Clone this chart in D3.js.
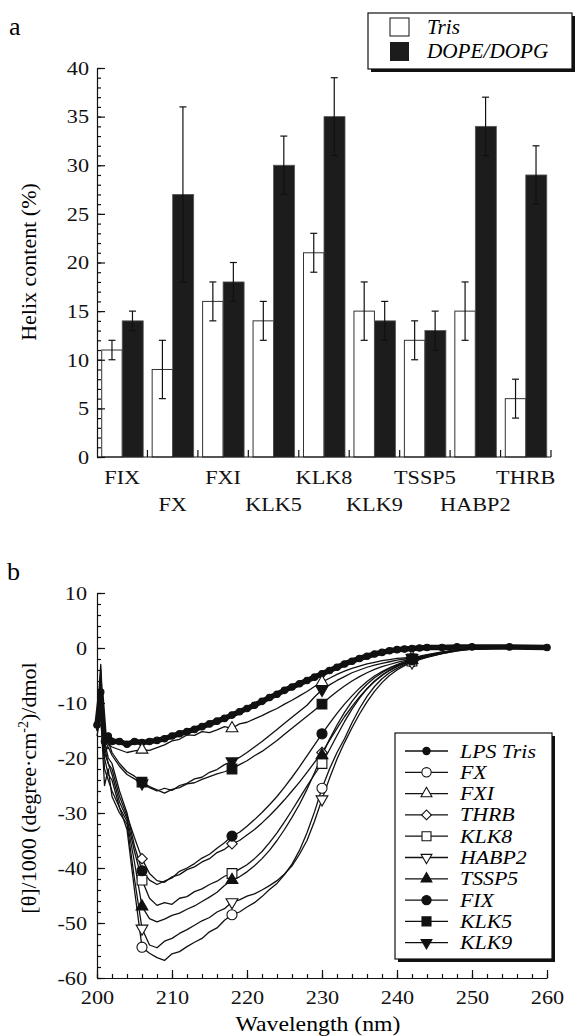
<!DOCTYPE html>
<html>
<head>
<meta charset="utf-8">
<title>Helix content and CD spectra</title>
<script src="https://cdn.jsdelivr.net/npm/d3@7/dist/d3.min.js"></script>
<style>
  body { margin: 0; background: #fff; }
  .axis path, .axis line { stroke: #111; stroke-width: 1.2; }
</style>
</head>
<body>
<div id="chart"></div>
<script>
// ---- panel a data (helix content %) ----
var categories = ["FIX", "FX", "FXI", "KLK5", "KLK8", "KLK9", "TSSP5", "HABP2", "THRB"];
var trisVals = [11, 9, 16, 14, 21, 15, 12, 15, 6];
var trisErr  = [1, 3, 2, 2, 2, 3, 2, 3, 2];
var lipVals  = [14, 27, 18, 30, 35, 14, 13, 34, 29];
var lipErr   = [1, 9, 2, 3, 4, 2, 2, 3, 3];
var barLegend = ["Tris", "DOPE/DOPG"];

// ---- panel b data (CD spectra, [theta]/1000) ----
var waves = [200, 200.5, 201, 201.5, 202, 203, 204, 205, 206, 207, 208, 209, 210, 211, 212, 213, 214, 215, 216, 217,
  218, 219, 220, 221, 222, 223, 224, 225, 226, 227, 228, 229, 230, 231, 232, 233, 234, 235, 236, 237,
  238, 239, 240, 241, 242, 243, 244, 246, 248, 250, 255, 260];

var lpsTris = [-14, -8, -17, -16, -17, -17, -17.5, -17, -17.2, -17, -16.8, -16.5, -16, -15.6, -15.2, -14.8, -14.3, -13.8, -13.3, -12.8,
  -12.2, -11.6, -11, -10.4, -9.7, -9, -8.4, -7.7, -7.1, -6.5, -5.9, -5.3, -4.7, -4.1, -3.5, -2.9, -2.4, -1.9, -1.5, -1.1,
  -0.8, -0.5, -0.3, -0.2, -0.1, 0, 0.1, 0.1, 0.2, 0.2, 0.2, 0.1];
var fx = [-15, -10, -22, -24, -26, -29, -33, -44, -54.4, -55.5, -56.3, -56.8, -55.6, -55.2, -54.3, -53.5, -52.8, -51.6, -50.9, -49.5,
  -48.5, -48, -47.1, -46.3, -45.2, -43.9, -42.8, -41.2, -39.3, -36.8, -33.6, -29.8, -25.5, -22, -19, -16.5, -13.6, -11, -8.8, -7,
  -5.6, -4.5, -3.7, -3, -2.5, -2, -1.6, -0.9, -0.4, -0.1, 0.1, 0.1];
var fxi = [-15, -10, -19, -17.5, -18, -18.5, -19, -18.7, -18.5, -18.6, -18.1, -17.6, -16.9, -16.6, -15.8, -15.9, -15.2, -15.4, -14.9, -14.3,
  -14.6, -13.8, -13.5, -12.9, -12.3, -11.6, -11, -10.2, -9.5, -8.7, -7.9, -7, -6.2, -5.5, -4.8, -4.2, -3.7, -3.3, -2.9, -2.6,
  -2.3, -2.1, -1.9, -1.8, -1.7, -1.5, -1.2, -0.7, -0.3, -0.1, 0, 0.1];
var thrb = [-15, -4, -18, -21, -22, -27, -30.5, -34.5, -38.3, -41, -42.3, -42.6, -41.6, -41.2, -40.3, -39.8, -38.9, -38.3, -37.2, -36.6,
  -35.6, -35, -34, -33, -31.8, -30.5, -29.1, -27.6, -26, -24.4, -22.6, -20.8, -19, -16.8, -14.6, -12.5, -10.6, -8.9, -7.4, -6.1,
  -5, -4.1, -3.4, -2.8, -2.3, -1.9, -1.5, -0.9, -0.4, -0.1, 0, 0.1];
var klk8 = [-14, -6, -19, -21, -23, -28, -31, -37, -42.2, -45.5, -46.8, -46.3, -46.6, -45.5, -45.2, -44.3, -43.8, -43, -42.4, -41.5,
  -41, -40.2, -39.4, -38.3, -37, -35.4, -33.6, -31.6, -29.5, -27.3, -25.1, -23, -21, -18.5, -15.9, -13.4, -11.1, -9.1, -7.4, -6,
  -4.9, -4, -3.3, -2.8, -2.4, -2, -1.6, -1, -0.5, -0.2, 0, 0.1];
var habp2 = [-16, -12, -25, -22, -27, -30, -32, -42, -51, -54, -54.5, -53.3, -52.8, -51.9, -51.2, -50.4, -49.6, -49, -48, -47.4,
  -46.2, -45.8, -45.1, -44.7, -44, -43.2, -42.3, -41.1, -39.6, -37.5, -35, -31.5, -27.5, -23.7, -20.2, -17.2, -14.5, -12, -9.8, -7.9,
  -6.3, -5, -4, -3.2, -2.6, -2.1, -1.7, -1, -0.5, -0.2, 0, 0.1];
var tssp5 = [-15, -9, -20, -23, -24, -29, -31.5, -39, -47, -49.2, -49.8, -49.3, -48.6, -48.2, -47.5, -46.9, -46.1, -45.3, -44.4, -43.2,
  -42.2, -41.6, -40.7, -39.6, -38.3, -36.8, -35, -33, -30.8, -28.4, -25.7, -22.7, -19.5, -16.6, -14, -11.7, -9.7, -8, -6.6, -5.4,
  -4.5, -3.7, -3.1, -2.6, -2.2, -1.8, -1.5, -0.9, -0.4, -0.1, 0, 0.1];
var fix = [-13, -3, -17, -20, -21, -26, -30, -36, -40.5, -42.2, -43, -42.4, -41.8, -40.6, -40, -39.2, -38.2, -37.5, -36.4, -35.4,
  -34.2, -33.5, -32.4, -31.2, -29.9, -28.5, -27, -25.3, -23.5, -21.6, -19.6, -17.6, -15.6, -13.7, -11.9, -10.2, -8.7, -7.3, -6.1, -5.1,
  -4.3, -3.6, -3, -2.5, -2.1, -1.7, -1.4, -0.8, -0.4, -0.1, 0, 0.1];
var klk5 = [-14, -7, -18, -17, -19, -21, -22.5, -23.3, -24.4, -25.2, -25.8, -26.4, -25.7, -25.4, -24.7, -24.5, -23.9, -23.4, -22.9, -22.5,
  -22, -21.2, -20.5, -19.6, -18.8, -17.8, -16.8, -15.7, -14.6, -13.5, -12.4, -11.3, -10.2, -9, -7.9, -6.9, -6, -5.2, -4.5, -3.9,
  -3.4, -3, -2.6, -2.3, -2, -1.7, -1.4, -0.8, -0.4, -0.1, 0, 0.1];
var klk9 = [-14, -5, -19, -18, -19.5, -21.5, -23, -23.8, -24.6, -25.4, -26, -25.5, -25.9, -25, -24.6, -23.8, -23.5, -22.6, -22.1, -21.2,
  -20.6, -19.9, -19, -18, -17, -15.9, -14.8, -13.7, -12.6, -11.5, -10.4, -8.9, -7.6, -6.7, -5.9, -5.2, -4.5, -4, -3.5, -3.1,
  -2.8, -2.5, -2.2, -2, -1.8, -1.6, -1.3, -0.8, -0.4, -0.1, 0, 0.1];

var seriesNames = ["LPS Tris", "FX", "FXI", "THRB", "KLK8", "HABP2", "TSSP5", "FIX", "KLK5", "KLK9"];
var seriesVals = [lpsTris, fx, fxi, thrb, klk8, habp2, tssp5, fix, klk5, klk9];
var markerWaves = [206, 218, 230, 242];

// marker style per series: symbol type, filled?, rotation
var markers = {
  "LPS Tris": { type: d3.symbolCircle, fill: true, rot: 0, size: 30 },
  "FX":       { type: d3.symbolCircle, fill: false, rot: 0, size: 80 },
  "FXI":      { type: d3.symbolTriangle, fill: false, rot: 0, size: 60 },
  "THRB":     { type: d3.symbolSquare, fill: false, rot: 45, size: 55 },
  "KLK8":     { type: d3.symbolSquare, fill: false, rot: 0, size: 95 },
  "HABP2":    { type: d3.symbolTriangle, fill: false, rot: 180, size: 60 },
  "TSSP5":    { type: d3.symbolTriangle, fill: true, rot: 0, size: 60 },
  "FIX":      { type: d3.symbolCircle, fill: true, rot: 0, size: 80 },
  "KLK5":     { type: d3.symbolSquare, fill: true, rot: 0, size: 95 },
  "KLK9":     { type: d3.symbolTriangle, fill: true, rot: 180, size: 60 }
};

var serif = "Liberation Serif";

var svg = d3.select("#chart").append("svg")
  .attr("width", 577)
  .attr("height", 1036)
  .attr("font-family", serif);

// the original figure is a little stretched sideways, so widen glyphs a bit
function stretch(sel, k) {
  sel.each(function() {
    var len = this.getComputedTextLength();
    d3.select(this).attr("textLength", len * k).attr("lengthAdjust", "spacingAndGlyphs");
  });
}

function drawMarker(g, name, x, y, scale) {
  var m = markers[name];
  g.append("path")
    .attr("d", d3.symbol().type(m.type).size(m.size * scale)())
    .attr("transform", "translate(" + x + "," + y + ") rotate(" + m.rot + ")")
    .attr("fill", m.fill ? "#111" : "#fff")
    .attr("stroke", "#111")
    .attr("stroke-width", 1.1);
}

function legendBox(x, y, w, h) {
  svg.append("rect").attr("x", x + 3).attr("y", y + 3).attr("width", w).attr("height", h).attr("fill", "#111");
  svg.append("rect").attr("x", x).attr("y", y).attr("width", w).attr("height", h)
    .attr("fill", "#fff").attr("stroke", "#111").attr("stroke-width", 1.2);
}

function tickText(g) {
  g.selectAll("text").attr("font-family", serif).attr("fill", "#111").style("font-size", "19.5px")
    .call(stretch, 1.14);
}

// ================= panel a =================
svg.append("text").attr("x", 9).attr("y", 35).style("font-size", "26px").text("a");

var xa = d3.scaleBand().domain(categories).range([97, 551]).padding(0);
var ya = d3.scaleLinear().domain([0, 40]).range([457, 68]);
var barW = 20.5;
var ga = svg.append("g");

// bars
categories.forEach(function(c, i) {
  var cx = xa(c) + xa.bandwidth() / 2;
  ga.append("rect")
    .attr("x", cx - barW).attr("y", ya(trisVals[i]))
    .attr("width", barW).attr("height", ya(0) - ya(trisVals[i]))
    .attr("fill", "#fff").attr("stroke", "#333").attr("stroke-width", 1);
  ga.append("rect")
    .attr("x", cx).attr("y", ya(lipVals[i]))
    .attr("width", barW + 0.5).attr("height", ya(0) - ya(lipVals[i]))
    .attr("fill", "#1c1c1c").attr("stroke", "#555").attr("stroke-width", 0.8);
});

// error bars
function errBar(cx, v, e) {
  ga.append("line").attr("x1", cx).attr("x2", cx).attr("y1", ya(v - e)).attr("y2", ya(v + e))
    .attr("stroke", "#111").attr("stroke-width", 1.2);
  [v - e, v + e].forEach(function(t) {
    ga.append("line").attr("x1", cx - 3.5).attr("x2", cx + 3.5).attr("y1", ya(t)).attr("y2", ya(t))
      .attr("stroke", "#111").attr("stroke-width", 1.2);
  });
}
categories.forEach(function(c, i) {
  var cx = xa(c) + xa.bandwidth() / 2;
  errBar(cx - barW / 2, trisVals[i], trisErr[i]);
  errBar(cx + barW / 2, lipVals[i], lipErr[i]);
});

// y axis, major and minor ticks pointing inward
svg.append("g").attr("class", "axis").attr("transform", "translate(97,0)")
  .call(d3.axisLeft(ya).tickValues(d3.range(0, 41, 1)).tickSize(-4).tickSizeOuter(0).tickFormat(""))
  .call(function(g) { g.select(".domain").remove(); });
svg.append("g").attr("class", "axis").attr("transform", "translate(97,0)")
  .call(d3.axisLeft(ya).tickValues(d3.range(0, 41, 5)).tickSize(-8).tickSizeOuter(0).tickPadding(8))
  .call(tickText);

// x axis line with ticks at group boundaries
svg.append("line").attr("x1", 97).attr("x2", 551).attr("y1", ya(0)).attr("y2", ya(0))
  .attr("stroke", "#111").attr("stroke-width", 1.2);
categories.forEach(function(c) {
  var bx = xa(c) + xa.bandwidth();
  svg.append("line").attr("x1", bx).attr("x2", bx).attr("y1", ya(0)).attr("y2", ya(0) - 7)
    .attr("stroke", "#111").attr("stroke-width", 1.2);
});
var catLabels = svg.append("g");
categories.forEach(function(c, i) {
  catLabels.append("text")
    .attr("x", xa(c) + xa.bandwidth() / 2)
    .attr("y", i % 2 === 0 ? 484 : 511)
    .attr("text-anchor", "middle")
    .text(c);
});
catLabels.call(tickText);

svg.append("text")
  .attr("transform", "translate(36,262) rotate(-90)")
  .attr("text-anchor", "middle")
  .style("font-size", "22px")
  .text("Helix content (%)");

// legend a
legendBox(368, 13, 204, 56);
svg.append("rect").attr("x", 390).attr("y", 18).attr("width", 19).attr("height", 18)
  .attr("fill", "#fff").attr("stroke", "#111").attr("stroke-width", 1);
svg.append("rect").attr("x", 390).attr("y", 42).attr("width", 19).attr("height", 19)
  .attr("fill", "#1c1c1c");
barLegend.forEach(function(t, i) {
  svg.append("text").attr("x", 427).attr("y", 34 + i * 24)
    .style("font-size", "20px").style("font-style", "italic").text(t)
    .call(stretch, 1.06);
});

// ================= panel b =================
svg.append("text").attr("x", 7).attr("y", 580).style("font-size", "26px").text("b");

var xb = d3.scaleLinear().domain([200, 260]).range([97, 547]);
var yb = d3.scaleLinear().domain([-60, 10]).range([978, 593]);

svg.append("g").attr("class", "axis").attr("transform", "translate(0,978)")
  .call(d3.axisBottom(xb).tickValues(d3.range(200, 261, 2)).tickSize(-4).tickSizeOuter(0).tickFormat(""))
  .call(function(g) { g.select(".domain").remove(); });
svg.append("g").attr("class", "axis").attr("transform", "translate(0,978)")
  .call(d3.axisBottom(xb).tickValues(d3.range(200, 261, 10)).tickSize(-8).tickSizeOuter(0).tickPadding(12))
  .call(tickText);

svg.append("g").attr("class", "axis").attr("transform", "translate(97,0)")
  .call(d3.axisLeft(yb).tickValues(d3.range(-60, 11, 2)).tickSize(-4).tickSizeOuter(0).tickFormat(""))
  .call(function(g) { g.select(".domain").remove(); });
svg.append("g").attr("class", "axis").attr("transform", "translate(97,0)")
  .call(d3.axisLeft(yb).tickValues(d3.range(-60, 11, 10)).tickSize(-8).tickSizeOuter(0).tickPadding(10)
    .tickFormat(function(d) { return String(d); }))
  .call(tickText);

svg.append("text").attr("x", 318).attr("y", 1031).attr("text-anchor", "middle")
  .style("font-size", "22px").text("Wavelength (nm)")
  .call(stretch, 1.08);

var yTitle = svg.append("text")
  .attr("transform", "translate(36,788) rotate(-90)")
  .attr("text-anchor", "middle")
  .style("font-size", "22px");
yTitle.append("tspan").text("[\u03b8]/1000 (degree\u00b7cm");
yTitle.append("tspan").attr("dy", -8).style("font-size", "14px").text("-2");
yTitle.append("tspan").attr("dy", 8).text(")/dmol");

var line = d3.line()
  .x(function(d) { return xb(d[0]); })
  .y(function(d) { return yb(d[1]); });

var gb = svg.append("g");
// protein spectra first, LPS Tris drawn thick on top
for (var s = seriesNames.length - 1; s >= 0; s--) {
  var pts = waves.map(function(w, i) { return [w, seriesVals[s][i]]; });
  gb.append("path")
    .attr("d", line(pts))
    .attr("fill", "none")
    .attr("stroke", "#111")
    .attr("stroke-width", s === 0 ? 5.5 : 1.3)
    .attr("stroke-linejoin", "round");
}
// LPS Tris dots on every point
waves.forEach(function(w, i) {
  drawMarker(gb, "LPS Tris", xb(w), yb(lpsTris[i]), 1.1);
});
// markers at fixed wavelengths
for (var s2 = 1; s2 < seriesNames.length; s2++) {
  markerWaves.forEach(function(w) {
    var idx = waves.indexOf(w);
    drawMarker(gb, seriesNames[s2], xb(w), yb(seriesVals[s2][idx]), 1);
  });
}

// legend b
legendBox(395, 733, 157, 226);
seriesNames.forEach(function(n, i) {
  var ly = 751 + i * 21.3;
  svg.append("line").attr("x1", 405).attr("x2", 448).attr("y1", ly).attr("y2", ly)
    .attr("stroke", "#111").attr("stroke-width", 1.3);
  drawMarker(svg, n, 426.5, ly, n === "LPS Tris" ? 1.4 : 0.85);
  svg.append("text").attr("x", 460).attr("y", ly + 6.5)
    .style("font-size", "19.5px").style("font-style", "italic").text(n)
    .call(stretch, 1.12);
});
</script>
</body>
</html>
